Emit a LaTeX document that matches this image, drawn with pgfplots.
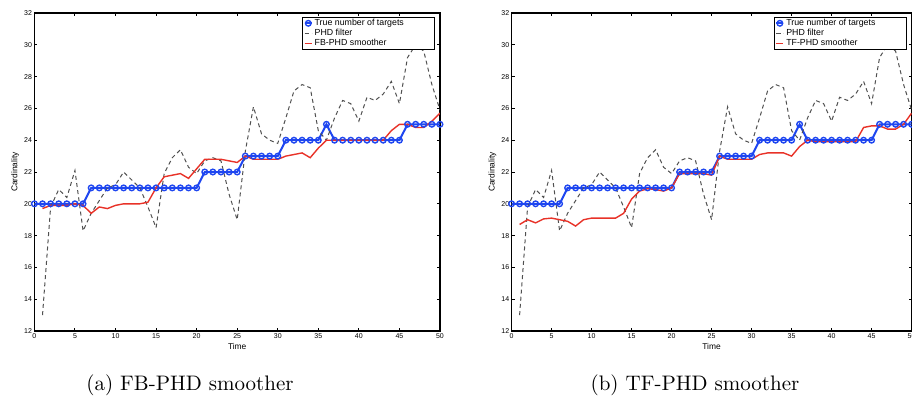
\documentclass[border=0pt]{standalone}
\usepackage{pgfplots}
\pgfplotsset{compat=1.18}
\usepackage{pgfplotstable}
\usepackage{fontspec}
\newfontfamily\arial{Liberation Sans}
\definecolor{tblue}{RGB}{30,70,240}
\definecolor{sred}{RGB}{232,50,40}
\definecolor{dgray}{RGB}{80,80,80}

\pgfplotstableread{
t y
0 20
1 20
2 20
3 20
4 20
5 20
6 20
7 21
8 21
9 21
10 21
11 21
12 21
13 21
14 21
15 21
16 21
17 21
18 21
19 21
20 21
21 22
22 22
23 22
24 22
25 22
26 23
27 23
28 23
29 23
30 23
31 24
32 24
33 24
34 24
35 24
36 25
37 24
38 24
39 24
40 24
41 24
42 24
43 24
44 24
45 24
46 25
47 25
48 25
49 25
50 25
}\truetab

\pgfplotstableread{
t y
1 13.0
2 19.8
3 20.9
4 20.4
5 22.1
6 18.3
7 19.4
8 20.2
9 21.0
10 21.2
11 22.0
12 21.5
13 21.0
14 19.8
15 18.5
16 21.9
17 22.9
18 23.4
19 22.3
20 21.9
21 22.7
22 22.9
23 22.7
24 20.6
25 19.0
26 23.3
27 26.1
28 24.4
29 24.0
30 23.8
31 25.4
32 27.1
33 27.5
34 27.3
35 24.6
36 24.0
37 25.4
38 26.5
39 26.3
40 25.2
41 26.7
42 26.5
43 26.9
44 27.7
45 26.3
46 29.2
47 30.0
48 29.6
49 27.5
50 25.9
}\phdtab

\pgfplotstableread{
t y
1 19.7
2 19.9
3 19.9
4 19.9
5 20.0
6 19.9
7 19.4
8 19.8
9 19.7
10 19.9
11 20.0
12 20.0
13 20.0
14 20.1
15 21.0
16 21.7
17 21.8
18 21.9
19 21.6
20 22.2
21 22.8
22 22.8
23 22.8
24 22.7
25 22.6
26 23.0
27 22.8
28 22.8
29 22.8
30 22.8
31 23.0
32 23.1
33 23.2
34 22.9
35 23.5
36 24.0
37 24.0
38 24.0
39 24.0
40 24.0
41 24.0
42 24.0
43 24.0
44 24.6
45 25.0
46 25.0
47 24.8
48 24.8
49 25.2
50 25.7
}\fbtab

\pgfplotstableread{
t y
1 18.7
2 19.0
3 18.8
4 19.05
5 19.1
6 19.0
7 18.9
8 18.6
9 19.0
10 19.1
11 19.1
12 19.1
13 19.1
14 19.4
15 20.3
16 20.8
17 20.95
18 20.9
19 20.8
20 21.0
21 21.9
22 21.9
23 21.9
24 21.9
25 21.8
26 23.0
27 22.8
28 22.8
29 22.8
30 22.8
31 23.1
32 23.2
33 23.2
34 23.2
35 23.0
36 23.6
37 24.0
38 23.9
39 23.9
40 23.9
41 23.9
42 23.9
43 23.9
44 24.8
45 24.9
46 24.9
47 24.7
48 24.7
49 25.0
50 25.7
}\tftab

\pgfplotsset{
  mystyle/.style={
    scale only axis, anchor=south west,
    height=159pt,
    xmin=0, xmax=50, ymin=12, ymax=32,
    xtick={0,5,...,50}, ytick={12,14,...,32},
    tick align=inside, major tick length=1.5pt,
    axis line style={line width=0.8pt},
    every tick/.style={black, line width=0.5pt},
    tick label style={font=\arial\fontsize{3.5}{4}\selectfont},
    xticklabel style={inner sep=1pt},
    yticklabel style={inner sep=1pt},
    label style={font=\arial\fontsize{4.2}{5}\selectfont},
    /pgf/number format/assume math mode=true,
    xlabel={Time}, ylabel={Cardinality},
    xlabel style={yshift=2pt},
    ylabel style={yshift=-2pt},
    legend cell align=left,
    legend style={at={(1,1)}, anchor=north east, xshift=-2.5pt, yshift=-2pt,
      draw=black, line width=0.5pt, inner sep=0.6pt, row sep=0.4pt,
      nodes={inner sep=0.3pt, text height=3.1pt, text depth=0.9pt},
      /tikz/every odd column/.append style={column sep=0.6pt},
      font=\arial\fontsize{4.4}{5}\selectfont},
    legend image code/.code={\draw[mark repeat=2,mark phase=2,#1] plot coordinates {(0pt,0pt)(1.8pt,0pt)(3.6pt,0pt)};},
  },
  trueplot/.style={tblue, line width=1pt, mark=o, mark size=1.4pt, mark options={line width=0.7pt}},
  phdplot/.style={dgray, line width=0.5pt, dash pattern=on 2pt off 1.6pt},
  smplot/.style={sred, line width=0.7pt},
}

\begin{document}
\begin{tikzpicture}
\begin{axis}[mystyle, at={(17.2pt,36pt)}, width=202.8pt]
\addplot[trueplot] table[x=t,y=y] {\truetab};
\addlegendentry{\makebox[59pt][l]{True number of targets}}
\addplot[phdplot] table[x=t,y=y] {\phdtab};
\addlegendentry{PHD filter}
\addplot[smplot] table[x=t,y=y] {\fbtab};
\addlegendentry{FB-PHD smoother}
\end{axis}
\begin{axis}[mystyle, at={(255.8pt,36pt)}, width=200pt]
\addplot[trueplot] table[x=t,y=y] {\truetab};
\addlegendentry{\makebox[59pt][l]{True number of targets}}
\addplot[phdplot] table[x=t,y=y] {\phdtab};
\addlegendentry{PHD filter}
\addplot[smplot] table[x=t,y=y] {\tftab};
\addlegendentry{TF-PHD smoother}
\end{axis}
\node[anchor=base, font=\fontsize{10.5}{12}\selectfont] at (95pt,6.5pt) {(a) FB-PHD smoother};
\node[anchor=base, font=\fontsize{10.5}{12}\selectfont] at (347.5pt,6.5pt) {(b) TF-PHD smoother};
\pgfresetboundingbox
\useasboundingbox (0pt,0pt) rectangle (456pt,201.5pt);
\end{tikzpicture}
\end{document}
